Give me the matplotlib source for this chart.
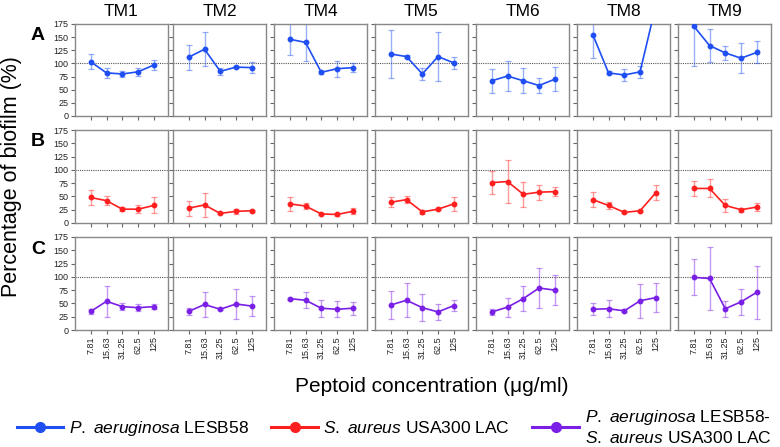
import matplotlib
matplotlib.use("Agg")
import matplotlib.pyplot as plt
from matplotlib.lines import Line2D
import numpy as np

plt.rcParams['font.family'] = ['Liberation Sans', 'DejaVu Sans']
plt.rcParams['mathtext.fontset'] = 'custom'
plt.rcParams['mathtext.it'] = 'Liberation Sans:italic'
plt.rcParams['mathtext.rm'] = 'Liberation Sans'

peptoids = ["TM1", "TM2", "TM4", "TM5", "TM6", "TM8", "TM9"]
concentrations = ["7.81", "15.63", "31.25", "62.5", "125"]
rows = ["A", "B", "C"]

# Row A: P. aeruginosa LESB58
A_mean = [[103, 82, 80, 84, 97],
          [112, 127, 85, 93, 92],
          [146, 140, 83, 90, 92],
          [118, 113, 80, 113, 101],
          [67, 76, 67, 58, 70],
          [155, 82, 78, 84, 210],
          [171, 134, 120, 110, 121]]
A_err = [[14, 10, 6, 8, 10],
         [24, 32, 7, 2, 10],
         [30, 36, 3, 15, 8],
         [45, 3, 12, 47, 12],
         [23, 28, 24, 15, 23],
         [44, 3, 11, 12, 0],
         [76, 31, 13, 29, 21]]
# Row B: S. aureus USA300 LAC
B_mean = [[48, 42, 26, 26, 33],
          [28, 34, 18, 22, 23],
          [36, 32, 17, 16, 22],
          [39, 44, 21, 26, 36],
          [76, 78, 54, 58, 59],
          [44, 33, 20, 23, 57],
          [65, 65, 33, 25, 30]]
B_err = [[15, 9, 4, 8, 15],
         [14, 22, 2, 5, 2],
         [13, 5, 2, 2, 6],
         [9, 6, 4, 2, 13],
         [22, 41, 23, 14, 9],
         [14, 7, 2, 2, 14],
         [14, 17, 12, 4, 7]]
# Row C: co-culture
C_mean = [[35, 54, 44, 42, 44],
          [35, 48, 39, 49, 45],
          [59, 56, 41, 39, 41],
          [47, 56, 42, 34, 46],
          [34, 43, 59, 79, 75],
          [39, 40, 36, 55, 61],
          [99, 97, 40, 53, 71]]
C_err = [[4, 29, 7, 6, 5],
         [7, 24, 2, 29, 19],
         [2, 15, 16, 15, 12],
         [27, 32, 25, 15, 10],
         [6, 18, 23, 37, 28],
         [11, 16, 3, 32, 28],
         [34, 60, 15, 25, 50]]

colors = ["#1f4ff2", "#ff1f1f", "#7a1fe6"]
means = [A_mean, B_mean, C_mean]
errs = [A_err, B_err, C_err]

W, H = 780, 447
fig = plt.figure(figsize=(W / 100, H / 100), dpi=100)

row_tb = [(24, 116), (130, 223), (237, 330)]
col_left = [75, 173, 274, 375, 476, 577, 678]
pw = 93
x = np.arange(len(concentrations))

for r in range(3):
    top, bot = row_tb[r]
    for c in range(len(peptoids)):
        ax = fig.add_axes([col_left[c] / W, 1 - bot / H, pw / W, (bot - top) / H])
        m = np.array(means[r][c], dtype=float)
        e = np.array(errs[r][c], dtype=float)
        ax.errorbar(x, m, yerr=e, fmt='none', ecolor=colors[r], alpha=0.45,
                    elinewidth=1.0, capsize=2.0, capthick=0.9, zorder=2)
        ax.plot(x, m, color=colors[r], lw=1.2, marker='o', ms=3.2, zorder=3)
        ax.axhline(100, color='#555555', lw=0.8, ls=(0, (1, 1)), zorder=1)
        ax.set_xlim(-1.0, 4.9)
        ax.set_ylim(0, 175)
        ax.set_yticks(np.arange(0, 176, 25))
        ax.set_xticks(x)
        for s in ax.spines.values():
            s.set_color('#888888')
            s.set_linewidth(1.0)
        ax.tick_params(axis='both', colors='#666666', length=3, width=0.8,
                       labelsize=6.5, labelcolor='#222222', pad=1.5)
        if c != 0:
            ax.set_yticklabels([])
        if r == 2:
            ax.set_xticklabels(concentrations, rotation=90)
        else:
            ax.set_xticklabels([])
        if r == 0:
            fig.text((col_left[c] + pw / 2) / W, 1 - 11 / H, peptoids[c],
                     fontsize=12.5, ha='center', va='center')
    fig.text(38 / W, 1 - (top + 12) / H, rows[r], fontsize=14, fontweight='bold',
             ha='center', va='center')

fig.text(12 / W, 1 - 177 / H, "Percentage of biofilm (%)", rotation=90,
         fontsize=15.5, ha='center', va='center')
fig.text(432 / W, 1 - 386 / H, "Peptoid concentration (\u03bcg/ml)",
         fontsize=15, ha='center', va='center')

handles = [Line2D([], [], color=col, lw=2.2, marker='o', ms=7) for col in colors]
labels = [r"$\it{P.}$ $\it{aeruginosa}$ LESB58",
          r"$\it{S.}$ $\it{aureus}$ USA300 LAC",
          r"$\it{P.}$ $\it{aeruginosa}$ LESB58-" + "\n" + r"$\it{S.}$ $\it{aureus}$ USA300 LAC"]
fig.legend(handles, labels, loc='center', bbox_to_anchor=(0.505, 1 - 427 / H),
           ncol=3, frameon=False, fontsize=12.5, handlelength=2.7,
           handletextpad=0.3, columnspacing=1.3, borderaxespad=0,
           labelspacing=0.1)

fig.savefig("out.png", dpi=100)
